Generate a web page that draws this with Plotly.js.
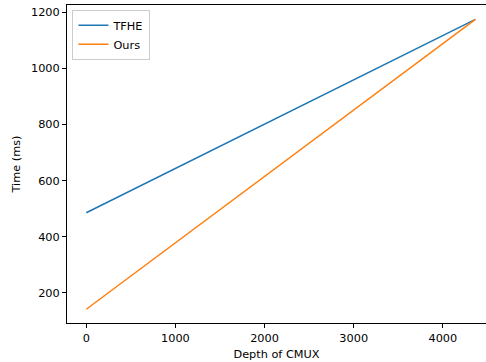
<!DOCTYPE html>
<html><head><meta charset="utf-8">
<script src="https://cdn.plot.ly/plotly-3.0.1.min.js"></script>
<style>body{margin:0;padding:0;background:#fff}#c{width:486px;height:362px}</style>
</head><body><div id="c"></div>
<script>
const depth = [0, 4365];
const tfhe = [485, 1175];
const ours = [141, 1175];
const seriesNames = ["TFHE", "Ours"];
const xTicks = [0, 1000, 2000, 3000, 4000];
const yTicks = [200, 400, 600, 800, 1000, 1200];

const font = {family: "DejaVu Sans", size: 11.3, color: "#000"};
const traces = [
  {x: depth, y: tfhe, name: seriesNames[0], mode: "lines", line: {color: "#1f77b4", width: 1.5}},
  {x: depth, y: ours, name: seriesNames[1], mode: "lines", line: {color: "#ff7f0e", width: 1.5}}
];
const layout = {
  width: 486, height: 362,
  margin: {l: 67, r: 0, t: 5, b: 39, pad: 0},
  paper_bgcolor: "#fff", plot_bgcolor: "#fff",
  font: font,
  showlegend: true,
  legend: {x: 0.013, y: 0.985, xanchor: "left", yanchor: "top", bgcolor: "rgba(255,255,255,0.8)",
           bordercolor: "#cccccc", borderwidth: 1, font: font,
           tracegroupgap: 0, itemwidth: 30},
  xaxis: {range: [-216, 4484], tickvals: xTicks, ticktext: xTicks.map(String),
          showgrid: false, zeroline: false, showline: true, linecolor: "#000", linewidth: 1,
          mirror: true, ticks: "outside", ticklen: 4, tickcolor: "#000", tickwidth: 1,
          tickfont: font, title: {text: "Depth of CMUX", font: font, standoff: 6}},
  yaxis: {range: [92, 1226], tickvals: yTicks, ticktext: yTicks.map(String),
          showgrid: false, zeroline: false, showline: true, linecolor: "#000", linewidth: 1,
          ticks: "outside", ticklen: 4, tickcolor: "#000", tickwidth: 1,
          tickfont: font, title: {text: "Time (ms)", font: font, standoff: 8}}
};
Plotly.newPlot("c", traces, layout, {displayModeBar: false, staticPlot: true});
</script></body></html>
